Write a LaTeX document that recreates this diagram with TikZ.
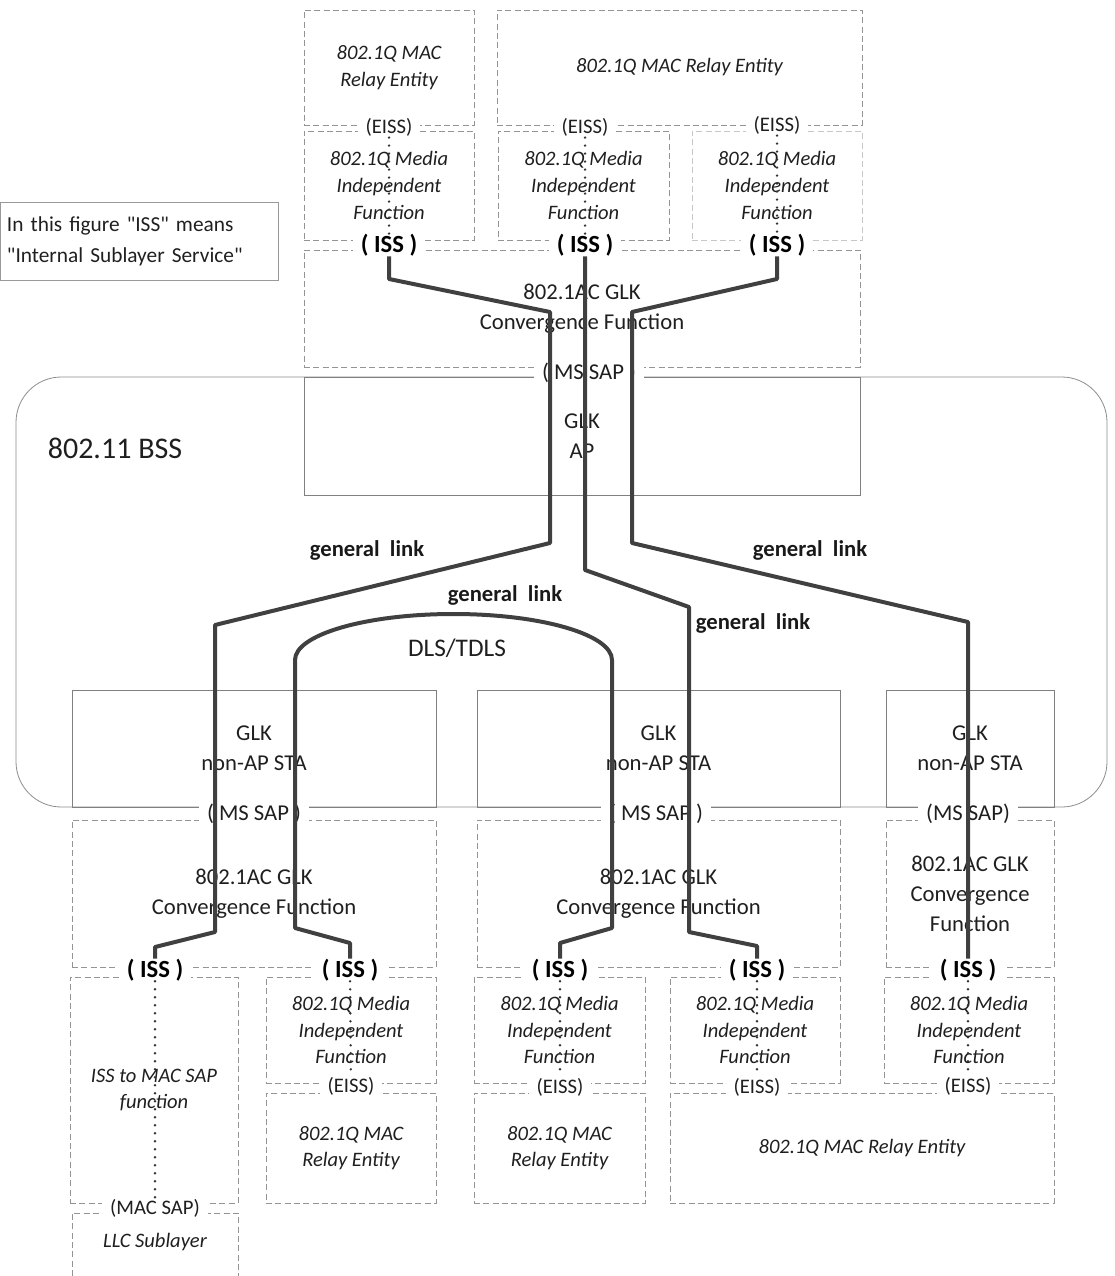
\documentclass[tikz,border=0pt]{standalone}
\usepackage{fontspec}
\setmainfont{Carlito}
\newfontfamily\notefont{Carlito}[Ligatures=TeXOff]
\begin{document}
\begin{tikzpicture}[x=0.75pt,y=-0.75pt,
  dbox/.style={draw=black!42, dash pattern=on 4.5pt off 2.5pt, line width=0.6pt},
  sbox/.style={draw=black!50, line width=0.6pt},
  px/.style 2 args={minimum width=#1*0.75pt, minimum height=#2*0.75pt, inner sep=0pt, outer sep=0pt},
  txt/.style={font=\fontsize{17}{22.5}\selectfont, align=center, text=black!88},
  itx/.style={font=\fontsize{15.4}{20}\selectfont\itshape, align=center, text=black!88},
  sap/.style={font=\fontsize{15.5}{18}\selectfont, fill=white, inner xsep=6pt, inner ysep=1pt, text=black!88},
  iss/.style={font=\fontsize{18.5}{20}\selectfont\bfseries, fill=white, inner xsep=6pt, inner ysep=0pt},
  lnk/.style={draw=black!75, line width=3pt, line join=round},
  dotl/.style={draw=black!80, line width=2pt, line cap=round, dash pattern=on 0pt off 6pt},
  glab/.style={font=\fontsize{17}{20}\selectfont\bfseries, text=black!90}
]
\useasboundingbox (0,0) rectangle (1114,1276);

% ---------- note ----------
\node[draw=black!40, line width=0.6pt, text width=264*0.75pt, align=left, inner xsep=7*0.75pt, inner ysep=4pt,
      minimum height=78*0.75pt, font=\notefont\fontsize{16}{23}\selectfont, text=black!88] (note) at (139,241)
  {In this figure "ISS" means\\"Internal Sublayer Service"};

% ---------- BSS ----------
\draw[draw=black!45, line width=0.6pt, rounded corners=34pt] (16,377) rectangle (1107,807);
\node[font=\fontsize{22.5}{26}\selectfont, text=black!88] (bss) at (115,448) {802.11 BSS};

% ---------- top stack ----------
\node[dbox,px={170}{115},itx] (relT1) at (389,67.5) {802.1Q MAC\\Relay Entity};
\node[dbox,px={365}{115},itx] (relT2) at (679.5,67.5) {802.1Q MAC Relay Entity};
\node[dbox,px={170}{109},itx] (mifT1) at (389,185.5) {802.1Q Media\\Independent\\Function};
\node[dbox,px={171}{109},itx] (mifT2) at (583.5,185.5) {802.1Q Media\\Independent\\Function};
\node[dbox,draw=black!22,px={170}{109},itx] (mifT3) at (777,185.5) {802.1Q Media\\Independent\\Function};
\node[dbox,px={556}{117},txt] (convT) at (582,308.5) {802.1AC GLK\\Convergence Function};
\node[sbox,px={556}{118},txt] (ap) at (582,436) {GLK\\AP};

\node[sap] (eissT1) at (389,127) {(EISS)};
\node[sap] (eissT2) at (585,127) {(EISS)};
\node[sap] (eissT3) at (777,125) {(EISS)};
\node[iss] (issT1) at (389,245) {( ISS )};
\node[iss] (issT2) at (585,245) {( ISS )};
\node[iss] (issT3) at (777,245) {( ISS )};
\node[sap, font=\fontsize{17}{18}\selectfont] (msT) at (589,373) {( MS SAP )};

% ---------- STAs ----------
\node[sbox,px={364}{117},txt] (sta1) at (254,748.5) {GLK\\non-AP STA};
\node[sbox,px={363}{117},txt] (sta2) at (658.5,748.5) {GLK\\non-AP STA};
\node[sbox,px={168}{117},txt] (sta3) at (970,748.5) {GLK\\non-AP STA};
\node[dbox,px={364}{147},txt] (conv1) at (254,893.5) {802.1AC GLK\\Convergence Function};
\node[dbox,px={363}{147},txt] (conv2) at (658.5,893.5) {802.1AC GLK\\Convergence Function};
\node[dbox,px={168}{147},txt] (conv3) at (970,893.5) {802.1AC GLK\\Convergence\\Function};

\node[sap, font=\fontsize{17}{18}\selectfont] (ms1) at (254,814) {( MS SAP )};
\node[sap, font=\fontsize{17}{18}\selectfont] (ms2) at (656,814) {( MS SAP )};
\node[sap, font=\fontsize{17}{18}\selectfont] (ms3) at (968,814) {(MS SAP)};

% ---------- bottom row ----------
\node[dbox,px={168}{226},itx] (i2m) at (154,1090) {ISS to MAC SAP\\function};
\draw[dbox] (72,1276) |- (238,1213) -- (238,1276);
\node[itx] (llc) at (155,1242) {LLC Sublayer};
\node[dbox,px={170}{106},itx] (mifB1) at (351,1030) {802.1Q Media\\Independent\\Function};
\node[dbox,px={171}{106},itx] (mifB2) at (559.5,1030) {802.1Q Media\\Independent\\Function};
\node[dbox,px={170}{106},itx] (mifB3) at (755,1030) {802.1Q Media\\Independent\\Function};
\node[dbox,px={170}{106},itx] (mifB4) at (969,1030) {802.1Q Media\\Independent\\Function};
\node[dbox,px={170}{110},itx] (relB1) at (351,1148) {802.1Q MAC\\Relay Entity};
\node[dbox,px={171}{110},itx] (relB2) at (559.5,1148) {802.1Q MAC\\Relay Entity};
\node[dbox,px={384}{110},itx] (relB3) at (862,1148) {802.1Q MAC Relay Entity};

\node[iss] (issB1) at (155,970) {( ISS )};
\node[iss] (issB2) at (350,970) {( ISS )};
\node[iss] (issB3) at (560,970) {( ISS )};
\node[iss] (issB4) at (757,970) {( ISS )};
\node[iss] (issB5) at (968,970) {( ISS )};
\node[sap] (macsap) at (155,1208) {(MAC SAP)};
\node[sap] (eissB1) at (351,1086) {(EISS)};
\node[sap] (eissB2) at (560,1087) {(EISS)};
\node[sap] (eissB3) at (757,1087) {(EISS)};
\node[sap] (eissB4) at (968,1086) {(EISS)};

% ---------- link labels ----------
\node[glab] (gl1) at (367,550) {general\ \ link};
\node[glab] (gl2) at (505,595) {general\ \ link};
\node[glab] (gl3) at (810,550) {general\ \ link};
\node[glab] (gl4) at (753,623) {general\ \ link};
\node[font=\fontsize{19}{20}\selectfont, text=black!88] (dls) at (457,648) {DLS/TDLS};

% ---------- dotted ----------
\draw[dotl] (eissT1) -- (issT1);
\draw[dotl] (eissT2) -- (issT2);
\draw[dotl] (eissT3) -- (issT3);
\draw[dotl] (issB1) -- (macsap);
\draw[dotl] (issB2) -- (eissB1);
\draw[dotl] (issB3) -- (eissB2);
\draw[dotl] (issB4) -- (eissB3);
\draw[dotl] (issB5) -- (eissB4);

% ---------- general links ----------
\draw[lnk] (issT1.south) -- (389,279) -- (550,312) -- (550,543) -- (215,625) -- (215,932) -- (155,947) -- (issB1.north);
\draw[lnk] (issT2.south) -- (585,570) -- (689,607) -- (689,932) -- (757,946) -- (issB4.north);
\draw[lnk] (issT3.south) -- (777,279) -- (632,312) -- (632,543) -- (968,622) -- (issB5.north);
\draw[lnk] (issB2.north) -- (350,943) -- (295,928) -- (295,660)
   arc[start angle=180, end angle=360, x radius=158.5, y radius=46] -- (612,928) -- (560,943) -- (issB3.north);
\end{tikzpicture}
\end{document}
